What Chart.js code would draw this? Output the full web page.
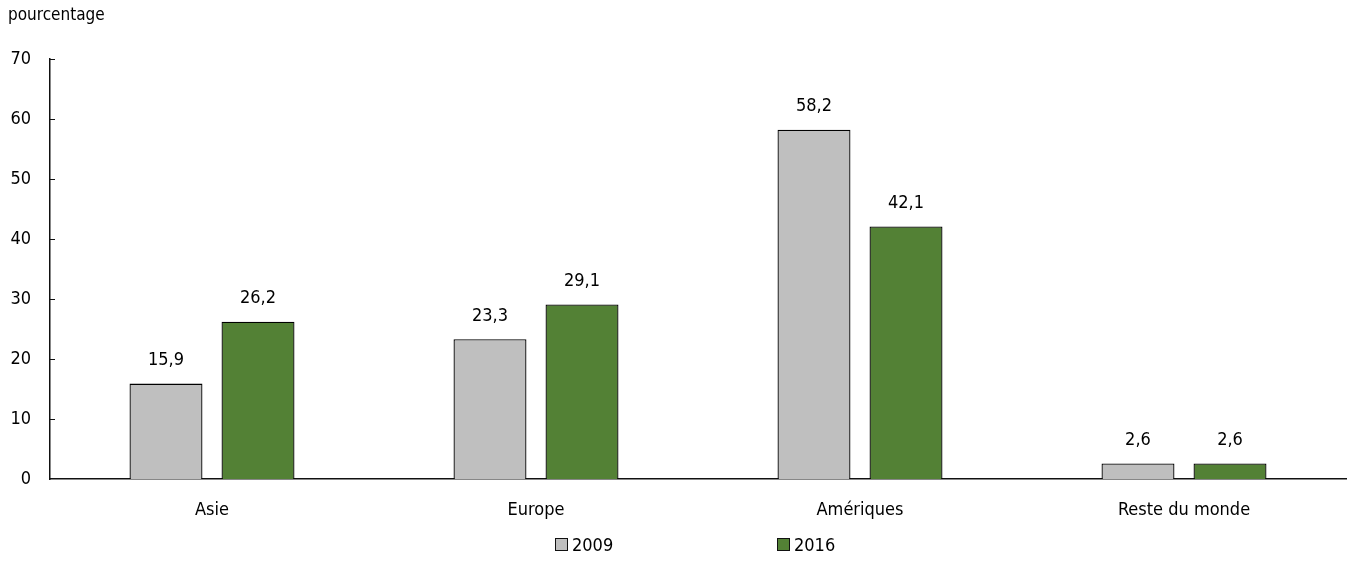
<!DOCTYPE html>
<html lang="fr">
<head>
<meta charset="utf-8">
<script src="https://cdn.jsdelivr.net/npm/chart.js@4"></script>
<style>
  html, body { margin: 0; padding: 0; background: #fff; }
  #wrap { position: relative; width: 1349px; height: 562px; font-family: 'Liberation Sans Narrow', 'Arial Narrow', 'DejaVu Sans Condensed', sans-serif; color: #000; }
  #ytitle { position: absolute; left: 8px; top: 4px; font-size: 17px; }
  #legend { position: absolute; top: 534px; left: 0; width: 1349px; font-size: 18px; }
  .item { position: absolute; top: 0; display: flex; align-items: center; }
  .sw { width: 11px; height: 11px; border: 1px solid #111; margin-right: 4px; }
</style>
</head>
<body>
<div id="wrap">
  <canvas id="c" width="1349" height="562"></canvas>
  <div id="ytitle">pourcentage</div>
  <div id="legend"></div>
</div>
<script>
const categories = ['Asie', 'Europe', 'Amériques', 'Reste du monde'];
const years = ['2009', '2016'];
const values2009 = [15.9, 23.3, 58.2, 2.6];
const values2016 = [26.2, 29.1, 42.1, 2.6];
const yTicks = [0, 10, 20, 30, 40, 50, 60, 70];

const FONT = "'Liberation Sans Narrow', 'Arial Narrow', 'DejaVu Sans Condensed', sans-serif";
const colors = ['#bfbfbf', '#538135'];

// étiquettes de valeur au-dessus des barres (virgule décimale)
const valueLabels = {
  id: 'valueLabels',
  afterDatasetsDraw(chart) {
    const ctx = chart.ctx;
    ctx.save();
    ctx.font = `18px ${FONT}`;
    ctx.fillStyle = '#000';
    ctx.textAlign = 'center';
    ctx.textBaseline = 'bottom';
    chart.data.datasets.forEach((ds, i) => {
      chart.getDatasetMeta(i).data.forEach((bar, j) => {
        ctx.fillText(ds.data[j].toFixed(1).replace('.', ','), bar.x, bar.y - 14);
      });
    });
    ctx.restore();
  },
};

// petites graduations tournées vers l'intérieur sur l'axe des y
const innerTicks = {
  id: 'innerTicks',
  afterDraw(chart) {
    const y = chart.scales.y;
    const ctx = chart.ctx;
    ctx.save();
    ctx.strokeStyle = '#111';
    ctx.lineWidth = 1;
    yTicks.forEach((v) => {
      if (v === 0) return;
      const py = Math.round(y.getPixelForValue(v)) + 0.5;
      ctx.beginPath();
      ctx.moveTo(y.right, py);
      ctx.lineTo(y.right + 5, py);
      ctx.stroke();
    });
    ctx.restore();
  },
};

new Chart(document.getElementById('c'), {
  type: 'bar',
  data: {
    labels: categories,
    datasets: [
      { label: years[0], data: values2009, backgroundColor: colors[0], borderColor: '#000', borderWidth: 1.3 },
      { label: years[1], data: values2016, backgroundColor: colors[1], borderColor: '#000', borderWidth: 1.3 },
    ],
  },
  options: {
    responsive: false,
    animation: false,
    layout: { padding: { top: 59, right: 3, bottom: 33, left: 0 } },
    datasets: { bar: { categoryPercentage: 0.568, barPercentage: 0.793 } },
    plugins: { legend: { display: false }, tooltip: { enabled: false } },
    scales: {
      x: {
        grid: { display: false },
        border: { color: '#111', width: 1.5 },
        ticks: { color: '#000', font: { family: FONT, size: 18 }, padding: 13, maxRotation: 0 },
        afterFit(s) { s.height = 50; },
      },
      y: {
        min: 0, max: 70,
        afterBuildTicks(s) { s.ticks = yTicks.map((v) => ({ value: v })); },
        grid: { display: false, drawTicks: false },
        border: { color: '#111', width: 1.5 },
        ticks: { color: '#000', font: { family: FONT, size: 18 }, padding: 19 },
        afterFit(s) { s.width = 50; },
      },
    },
  },
  plugins: [valueLabels, innerTicks],
});

const legendPos = [555, 777];
const legend = document.getElementById('legend');
years.forEach((yr, i) => {
  const item = document.createElement('div');
  item.className = 'item';
  item.style.left = legendPos[i] + 'px';
  item.innerHTML = `<span class="sw" style="background:${colors[i]}"></span><span>${yr}</span>`;
  legend.appendChild(item);
});
</script>
</body>
</html>
